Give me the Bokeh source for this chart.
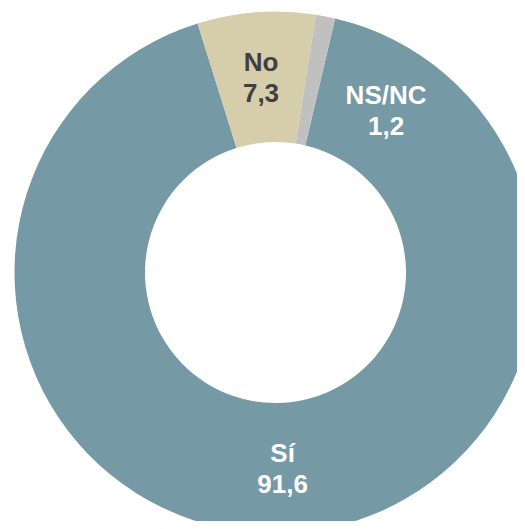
import math
from bokeh.plotting import figure
from bokeh.models import Range1d, ColumnDataSource
from bokeh.core.properties import value
from bokeh.embed import file_html
from bokeh.resources import INLINE

categories = ["Sí", "No", "NS/NC"]
values = [91.6, 7.3, 1.2]
value_labels = ["91,6", "7,3", "1,2"]
colors = ["#7599A5", "#D6CDAA", "#C0C0C0"]
label_colors = ["#FFFFFF", "#404040", "#FFFFFF"]
label_shift_deg = [0.0, 0.0, 23.3]

W, H = 517, 521
cx, cy = 275, 249
R_OUT, R_IN = 261, 130.5
R_LABEL = 196
START_DEG = 13.2  # clockwise from 12 o'clock

total = sum(values)
starts, ends, lx, ly = [], [], [], []
phi = START_DEG
for v, sh in zip(values, label_shift_deg):
    span = v / total * 360.0
    phi_s, phi_e = phi, phi + span
    starts.append(math.radians(90 - phi_s))
    ends.append(math.radians(90 - phi_e))
    mid = math.radians((phi_s + phi_e) / 2 + sh)
    lx.append(cx + R_LABEL * math.sin(mid))
    ly.append(cy + R_LABEL * math.cos(mid))
    phi = phi_e

src = ColumnDataSource(dict(
    start=starts, end=ends, color=colors,
    lx=lx, ly1=[y + 15.5 for y in ly], ly2=[y - 15.5 for y in ly],
    cat=categories, val=value_labels, tcol=label_colors,
))

p = figure(width=W, height=H, output_backend="svg", toolbar_location=None,
           x_range=Range1d(0, W), y_range=Range1d(0, H), min_border=0,
           outline_line_color=None)
p.axis.visible = False
p.grid.visible = False
p.background_fill_color = "white"
p.border_fill_color = "white"

p.annular_wedge(x=cx, y=cy, inner_radius=R_IN, outer_radius=R_OUT,
                inner_radius_units="screen", outer_radius_units="screen",
                start_angle="start", end_angle="end", direction="clock",
                fill_color="color", line_color=None, source=src)

for col in ("ly1", "ly2"):
    p.text(x="lx", y=col, text="cat" if col == "ly1" else "val", source=src,
           text_color="tcol", text_align="center", text_baseline="middle",
           text_font=value("Liberation Sans"), text_font_style="bold",
           text_font_size="26px")

open("out.html", "w").write(file_html(p, INLINE))
